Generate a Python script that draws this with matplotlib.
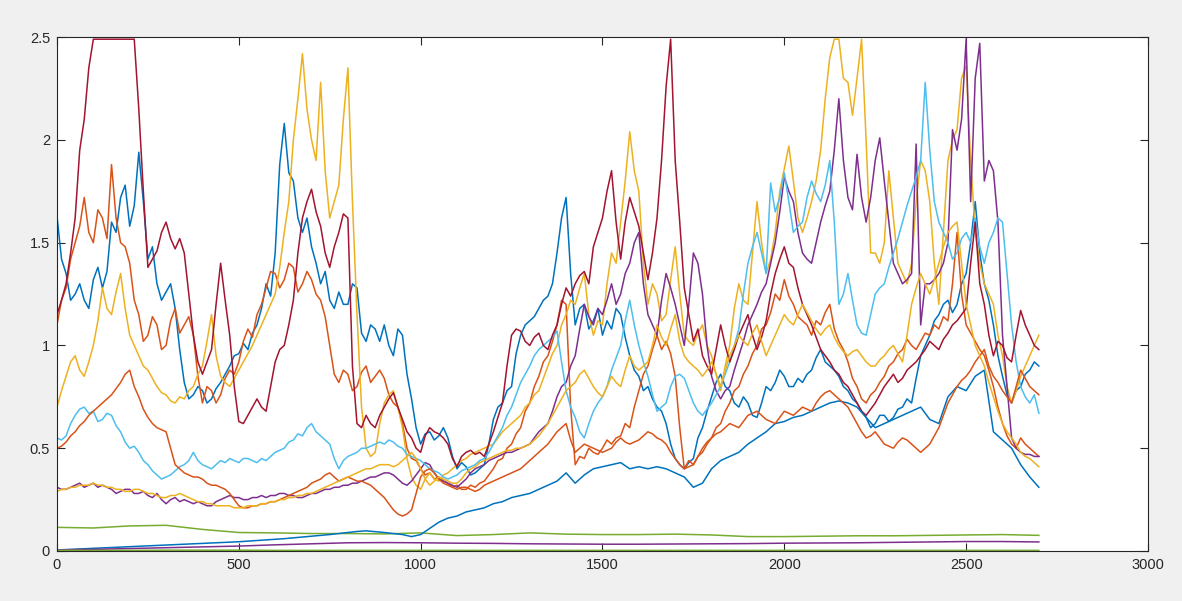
import matplotlib
matplotlib.use("Agg")
import matplotlib.pyplot as plt
from matplotlib.ticker import FuncFormatter

# sample positions: noisy series every 12.5 steps, blue_b every 25, flat series every 100
steps_fine = [i * 12.5 for i in range(217)]
steps = list(range(0, 2701, 25))
steps_coarse = list(range(0, 2701, 100))

blue_a = [
    1.63, 1.42, 1.35, 1.22, 1.25, 1.30, 1.22, 1.18, 1.32, 1.38, 1.28, 1.36, 1.60, 1.55, 1.72, 1.78, 1.58, 1.68, 1.94, 1.70, 1.42, 1.48, 1.30, 1.22,
    1.26, 1.30, 1.18, 0.98, 0.82, 0.74, 0.76, 0.80, 0.78, 0.72, 0.74, 0.79, 0.82, 0.86, 0.90, 0.95, 0.96, 1.01, 0.98, 1.06, 1.10, 1.18, 1.30, 1.24,
    1.45, 1.88, 2.08, 1.84, 1.80, 1.62, 1.55, 1.62, 1.48, 1.40, 1.30, 1.36, 1.22, 1.18, 1.26, 1.20, 1.20, 1.30, 1.28, 1.06, 1.02, 1.10, 1.08, 1.02,
    1.10, 1.00, 0.95, 1.08, 1.05, 0.86, 0.74, 0.60, 0.52, 0.57, 0.58, 0.54, 0.56, 0.60, 0.55, 0.46, 0.40, 0.43, 0.41, 0.37, 0.38, 0.40, 0.42, 0.52,
    0.64, 0.70, 0.72, 0.78, 0.80, 0.96, 1.05, 1.10, 1.12, 1.14, 1.18, 1.22, 1.24, 1.30, 1.45, 1.62, 1.72, 1.35, 1.10, 1.18, 1.20, 1.08, 1.12, 1.18,
    1.05, 1.12, 1.08, 1.18, 1.15, 1.04, 0.95, 0.88, 0.85, 0.78, 0.80, 0.74, 0.70, 0.68, 0.62, 0.52, 0.45, 0.42, 0.40, 0.43, 0.45, 0.55, 0.60, 0.68,
    0.75, 0.82, 0.86, 0.80, 0.78, 0.72, 0.70, 0.75, 0.72, 0.66, 0.65, 0.72, 0.80, 0.78, 0.82, 0.88, 0.85, 0.80, 0.80, 0.84, 0.82, 0.86, 0.88, 0.94,
    0.98, 0.92, 0.90, 0.88, 0.85, 0.80, 0.78, 0.74, 0.72, 0.68, 0.65, 0.60, 0.62, 0.66, 0.66, 0.63, 0.65, 0.69, 0.70, 0.74, 0.72, 0.84, 0.95, 1.00,
    1.05, 1.12, 1.15, 1.20, 1.22, 1.16, 1.20, 1.30, 1.35, 1.50, 1.70, 1.45, 1.30, 1.22, 1.10, 0.95, 0.85, 0.76, 0.72, 0.78, 0.80, 0.86, 0.88, 0.92,
    0.90,
]
orange_a = [
    1.10, 1.22, 1.28, 1.42, 1.50, 1.58, 1.72, 1.55, 1.50, 1.66, 1.62, 1.52, 1.88, 1.62, 1.50, 1.48, 1.40, 1.22, 1.15, 1.02, 1.05, 1.14, 1.10, 0.98,
    1.00, 1.12, 1.18, 1.06, 1.10, 1.14, 1.05, 0.85, 0.72, 0.80, 0.78, 0.72, 0.76, 0.84, 0.88, 0.86, 0.92, 1.02, 1.08, 1.04, 1.15, 1.20, 1.28, 1.36,
    1.35, 1.28, 1.32, 1.40, 1.38, 1.26, 1.30, 1.36, 1.32, 1.25, 1.22, 1.14, 1.00, 0.86, 0.82, 0.88, 0.86, 0.78, 0.80, 0.87, 0.90, 0.82, 0.85, 0.88,
    0.84, 0.76, 0.72, 0.70, 0.62, 0.50, 0.45, 0.44, 0.40, 0.37, 0.38, 0.35, 0.36, 0.34, 0.33, 0.31, 0.32, 0.30, 0.30, 0.32, 0.31, 0.33, 0.34, 0.37,
    0.40, 0.44, 0.45, 0.50, 0.52, 0.57, 0.60, 0.68, 0.72, 0.80, 0.85, 0.92, 0.95, 1.02, 1.10, 1.22, 1.20, 0.70, 0.42, 0.46, 0.45, 0.50, 0.48, 0.47,
    0.50, 0.54, 0.52, 0.55, 0.56, 0.62, 0.60, 0.70, 0.78, 0.86, 0.90, 0.98, 1.05, 0.98, 1.02, 0.96, 0.85, 0.60, 0.40, 0.44, 0.42, 0.46, 0.48, 0.52,
    0.55, 0.60, 0.62, 0.68, 0.72, 0.78, 0.80, 0.86, 0.90, 0.96, 1.00, 1.08, 1.10, 1.16, 1.25, 1.22, 1.32, 1.24, 1.20, 1.14, 1.12, 1.10, 1.05, 1.12,
    1.10, 1.16, 1.20, 1.08, 1.02, 0.98, 0.92, 0.84, 0.80, 0.74, 0.72, 0.76, 0.78, 0.82, 0.85, 0.90, 0.92, 0.96, 0.98, 1.03, 1.00, 0.98, 1.02, 1.06,
    1.05, 1.10, 1.08, 1.14, 1.12, 1.30, 1.55, 1.25, 1.10, 1.06, 1.02, 0.98, 0.95, 0.88, 0.80, 0.70, 0.62, 0.56, 0.52, 0.50, 0.55, 0.52, 0.50, 0.48,
    0.46,
]
yellow_a = [
    0.70, 0.78, 0.85, 0.92, 0.95, 0.88, 0.85, 0.92, 1.00, 1.12, 1.28, 1.18, 1.15, 1.26, 1.35, 1.18, 1.05, 1.00, 0.95, 0.90, 0.88, 0.84, 0.80, 0.77,
    0.76, 0.73, 0.72, 0.75, 0.74, 0.78, 0.80, 0.86, 0.90, 1.02, 1.15, 0.95, 0.85, 0.82, 0.80, 0.84, 0.88, 0.92, 0.96, 1.00, 1.05, 1.10, 1.15, 1.20,
    1.25, 1.38, 1.55, 1.70, 2.00, 2.20, 2.42, 2.15, 2.00, 1.90, 2.28, 1.85, 1.62, 1.70, 1.78, 2.10, 2.35, 1.70, 1.15, 0.70, 0.50, 0.46, 0.48, 0.62,
    0.72, 0.76, 0.78, 0.70, 0.60, 0.45, 0.36, 0.32, 0.30, 0.35, 0.38, 0.35, 0.34, 0.37, 0.38, 0.40, 0.42, 0.44, 0.45, 0.47, 0.48, 0.49, 0.50, 0.51,
    0.52, 0.55, 0.58, 0.60, 0.62, 0.64, 0.66, 0.70, 0.72, 0.76, 0.78, 0.84, 0.90, 0.96, 1.00, 1.10, 1.15, 1.22, 1.20, 1.28, 1.35, 1.15, 1.05, 1.12,
    1.10, 1.30, 1.45, 1.40, 1.60, 1.80, 2.04, 1.85, 1.75, 1.40, 1.20, 1.30, 1.25, 1.12, 1.15, 1.32, 1.48, 1.25, 1.05, 1.02, 1.00, 1.06, 1.10, 1.00,
    0.95, 0.86, 0.78, 0.90, 1.00, 1.18, 1.30, 1.22, 1.20, 1.45, 1.70, 1.50, 1.35, 1.42, 1.55, 1.75, 1.86, 1.97, 1.80, 1.62, 1.55, 1.62, 1.70, 1.80,
    1.95, 2.20, 2.40, 2.49, 2.49, 2.30, 2.28, 2.12, 2.30, 2.49, 2.00, 1.45, 1.45, 1.40, 1.50, 1.85, 1.62, 1.40, 1.35, 1.30, 1.40, 1.70, 1.90, 1.85,
    1.70, 1.40, 1.20, 1.55, 1.90, 2.00, 2.05, 2.30, 2.36, 1.90, 1.55, 1.40, 1.30, 1.25, 1.20, 1.05, 0.95, 0.80, 0.72, 0.78, 0.85, 0.90, 0.95, 1.00,
    1.05,
]
purple_a = [
    0.31, 0.30, 0.30, 0.31, 0.32, 0.33, 0.31, 0.32, 0.33, 0.31, 0.32, 0.31, 0.30, 0.28, 0.29, 0.30, 0.30, 0.28, 0.28, 0.29, 0.27, 0.26, 0.28, 0.25,
    0.23, 0.25, 0.26, 0.24, 0.25, 0.24, 0.23, 0.24, 0.23, 0.22, 0.22, 0.24, 0.25, 0.26, 0.27, 0.26, 0.26, 0.25, 0.25, 0.26, 0.26, 0.27, 0.26, 0.27,
    0.27, 0.28, 0.28, 0.27, 0.27, 0.26, 0.26, 0.27, 0.28, 0.28, 0.29, 0.30, 0.30, 0.31, 0.31, 0.32, 0.32, 0.33, 0.33, 0.34, 0.35, 0.36, 0.36, 0.37,
    0.38, 0.38, 0.37, 0.35, 0.33, 0.32, 0.34, 0.37, 0.40, 0.43, 0.42, 0.38, 0.35, 0.34, 0.33, 0.32, 0.31, 0.33, 0.35, 0.38, 0.40, 0.41, 0.42, 0.44,
    0.45, 0.46, 0.47, 0.48, 0.48, 0.49, 0.50, 0.51, 0.52, 0.55, 0.58, 0.60, 0.62, 0.68, 0.75, 0.80, 0.82, 0.90, 0.95, 1.08, 1.20, 1.14, 1.10, 1.18,
    1.15, 1.22, 1.30, 1.20, 1.25, 1.35, 1.40, 1.50, 1.55, 1.30, 1.15, 1.10, 1.05, 1.22, 1.35, 1.28, 1.20, 1.10, 1.00, 1.20, 1.45, 1.40, 1.25, 1.00,
    0.85, 0.78, 0.74, 0.78, 0.80, 0.88, 0.95, 1.02, 1.10, 1.15, 1.20, 1.26, 1.30, 1.40, 1.50, 1.65, 1.82, 1.75, 1.70, 1.55, 1.45, 1.42, 1.40, 1.50,
    1.60, 1.68, 1.75, 1.95, 2.20, 1.90, 1.72, 1.66, 1.93, 1.72, 1.60, 1.72, 1.90, 2.01, 1.80, 1.60, 1.40, 1.35, 1.30, 1.32, 1.35, 1.98, 1.10, 1.30,
    1.30, 1.32, 1.35, 1.40, 1.50, 2.05, 1.95, 2.10, 2.49, 1.70, 2.30, 2.47, 1.80, 1.90, 1.85, 1.60, 1.05, 0.80, 0.55, 0.50, 0.48, 0.47, 0.47, 0.46,
    0.46,
]
green_a = [
    0.115, 0.112, 0.122, 0.125, 0.105, 0.090, 0.088, 0.085, 0.085, 0.083,
    0.088, 0.075, 0.080, 0.088, 0.082, 0.080, 0.080, 0.082, 0.078, 0.070,
    0.070, 0.072, 0.074, 0.074, 0.076, 0.078, 0.080, 0.076,
]
light_blue = [
    0.55, 0.54, 0.56, 0.62, 0.66, 0.69, 0.70, 0.67, 0.68, 0.63, 0.64, 0.67, 0.66, 0.61, 0.58, 0.53, 0.50, 0.51, 0.48, 0.44, 0.42, 0.39, 0.37, 0.35,
    0.36, 0.37, 0.39, 0.41, 0.42, 0.44, 0.48, 0.44, 0.42, 0.41, 0.40, 0.42, 0.44, 0.43, 0.45, 0.44, 0.43, 0.45, 0.45, 0.44, 0.43, 0.45, 0.44, 0.46,
    0.48, 0.49, 0.50, 0.53, 0.54, 0.57, 0.56, 0.60, 0.62, 0.58, 0.56, 0.54, 0.52, 0.45, 0.40, 0.44, 0.46, 0.47, 0.48, 0.50, 0.50, 0.51, 0.52, 0.53,
    0.52, 0.54, 0.53, 0.51, 0.50, 0.47, 0.46, 0.45, 0.44, 0.42, 0.40, 0.39, 0.38, 0.36, 0.35, 0.36, 0.37, 0.39, 0.40, 0.41, 0.42, 0.44, 0.45, 0.48,
    0.52, 0.56, 0.60, 0.66, 0.70, 0.76, 0.82, 0.86, 0.90, 0.95, 0.98, 1.00, 1.02, 1.04, 1.07, 0.92, 0.78, 0.70, 0.65, 0.58, 0.55, 0.62, 0.68, 0.72,
    0.75, 0.80, 0.88, 0.94, 1.00, 1.12, 1.22, 1.10, 1.00, 0.92, 0.85, 0.76, 0.68, 0.70, 0.72, 0.80, 0.85, 0.86, 0.84, 0.78, 0.72, 0.68, 0.66, 0.69,
    0.72, 0.76, 0.80, 0.86, 0.92, 1.00, 1.08, 1.25, 1.40, 1.48, 1.55, 1.45, 1.35, 1.79, 1.65, 1.72, 1.84, 1.70, 1.55, 1.58, 1.60, 1.72, 1.80, 1.74,
    1.70, 1.78, 1.90, 1.60, 1.20, 1.25, 1.35, 1.22, 1.10, 1.06, 1.05, 1.15, 1.25, 1.28, 1.30, 1.38, 1.45, 1.52, 1.60, 1.68, 1.75, 1.82, 1.90, 2.28,
    1.95, 1.70, 1.60, 1.55, 1.50, 1.42, 1.45, 1.52, 1.55, 1.50, 1.62, 1.48, 1.40, 1.50, 1.55, 1.62, 1.60, 1.35, 1.10, 0.92, 0.80, 0.75, 0.72, 0.76,
    0.67,
]
dark_red = [
    1.15, 1.22, 1.30, 1.45, 1.62, 1.95, 2.10, 2.35, 2.49, 2.49, 2.49, 2.49, 2.49, 2.49, 2.49, 2.49, 2.49, 2.49, 2.15, 1.75, 1.38, 1.42, 1.46, 1.55,
    1.60, 1.52, 1.47, 1.52, 1.45, 1.25, 1.05, 0.92, 0.86, 0.92, 0.98, 1.20, 1.40, 1.22, 1.05, 0.80, 0.63, 0.62, 0.66, 0.70, 0.74, 0.70, 0.68, 0.80,
    0.92, 0.98, 1.00, 1.10, 1.22, 1.45, 1.62, 1.70, 1.76, 1.65, 1.58, 1.45, 1.38, 1.48, 1.55, 1.64, 1.62, 0.90, 0.62, 0.60, 0.66, 0.62, 0.60, 0.66,
    0.70, 0.74, 0.77, 0.70, 0.64, 0.58, 0.55, 0.50, 0.48, 0.56, 0.60, 0.58, 0.57, 0.55, 0.52, 0.45, 0.41, 0.46, 0.48, 0.49, 0.47, 0.48, 0.46, 0.52,
    0.58, 0.65, 0.72, 0.90, 1.05, 1.08, 1.07, 1.02, 1.00, 1.04, 1.06, 1.00, 0.98, 1.05, 1.10, 1.20, 1.28, 1.24, 1.30, 1.34, 1.36, 1.30, 1.48, 1.55,
    1.62, 1.75, 1.85, 1.60, 1.42, 1.60, 1.72, 1.65, 1.58, 1.45, 1.32, 1.45, 1.62, 1.90, 2.26, 2.49, 1.90, 1.60, 1.28, 1.15, 1.02, 1.08, 0.95, 0.90,
    0.86, 0.98, 1.10, 1.00, 0.92, 0.98, 1.05, 1.10, 1.15, 1.05, 0.98, 1.04, 1.12, 1.25, 1.35, 1.42, 1.48, 1.40, 1.38, 1.28, 1.20, 1.15, 1.10, 1.04,
    0.98, 0.95, 0.92, 0.88, 0.86, 0.82, 0.80, 0.76, 0.72, 0.68, 0.66, 0.69, 0.72, 0.76, 0.80, 0.83, 0.86, 0.82, 0.84, 0.88, 0.90, 0.92, 0.95, 0.98,
    1.02, 1.00, 0.98, 1.03, 1.06, 1.10, 1.12, 1.15, 1.18, 1.40, 1.60, 1.30, 1.20, 1.05, 0.95, 1.02, 1.00, 0.94, 0.92, 1.05, 1.17, 1.10, 1.05, 1.00,
    0.98,
]
blue_b = [
    0.005, 0.007, 0.009, 0.011, 0.013, 0.015, 0.017, 0.019, 0.021, 0.023, 0.025, 0.027,
    0.029, 0.031, 0.033, 0.035, 0.037, 0.039, 0.041, 0.043, 0.045, 0.048, 0.051, 0.054,
    0.057, 0.060, 0.064, 0.068, 0.072, 0.076, 0.080, 0.085, 0.090, 0.095, 0.098, 0.094,
    0.090, 0.085, 0.080, 0.070, 0.080, 0.11, 0.14, 0.16, 0.17, 0.19, 0.20, 0.21,
    0.23, 0.24, 0.26, 0.27, 0.28, 0.30, 0.32, 0.34, 0.38, 0.33, 0.37, 0.40,
    0.41, 0.42, 0.43, 0.40, 0.41, 0.40, 0.41, 0.40, 0.38, 0.36, 0.31, 0.33,
    0.40, 0.44, 0.46, 0.48, 0.52, 0.55, 0.58, 0.62, 0.63, 0.65, 0.66, 0.68,
    0.70, 0.72, 0.73, 0.72, 0.70, 0.65, 0.60, 0.62, 0.64, 0.66, 0.68, 0.70,
    0.64, 0.62, 0.75, 0.80, 0.78, 0.85, 0.88, 0.58, 0.54, 0.50, 0.42, 0.36,
    0.31,
]
orange_b = [
    0.50, 0.51, 0.53, 0.56, 0.58, 0.61, 0.63, 0.66, 0.68, 0.70, 0.72, 0.74, 0.76, 0.79, 0.82, 0.86, 0.88, 0.80, 0.75, 0.69, 0.65, 0.62, 0.60, 0.59,
    0.58, 0.50, 0.42, 0.40, 0.38, 0.37, 0.36, 0.36, 0.35, 0.33, 0.32, 0.32, 0.31, 0.30, 0.28, 0.25, 0.22, 0.21, 0.21, 0.22, 0.22, 0.23, 0.23, 0.24,
    0.24, 0.25, 0.26, 0.27, 0.28, 0.29, 0.30, 0.31, 0.33, 0.34, 0.35, 0.37, 0.38, 0.36, 0.34, 0.35, 0.36, 0.35, 0.34, 0.34, 0.33, 0.32, 0.30, 0.28,
    0.26, 0.23, 0.20, 0.18, 0.17, 0.18, 0.20, 0.28, 0.36, 0.39, 0.40, 0.38, 0.35, 0.33, 0.32, 0.31, 0.30, 0.31, 0.31, 0.30, 0.29, 0.30, 0.32, 0.33,
    0.34, 0.35, 0.36, 0.37, 0.38, 0.39, 0.40, 0.42, 0.44, 0.46, 0.48, 0.50, 0.52, 0.55, 0.58, 0.60, 0.62, 0.54, 0.48, 0.50, 0.52, 0.51, 0.50, 0.49,
    0.48, 0.49, 0.50, 0.53, 0.55, 0.53, 0.52, 0.53, 0.54, 0.56, 0.58, 0.57, 0.55, 0.54, 0.52, 0.48, 0.45, 0.42, 0.40, 0.41, 0.42, 0.46, 0.50, 0.53,
    0.55, 0.57, 0.58, 0.60, 0.62, 0.61, 0.60, 0.63, 0.66, 0.67, 0.68, 0.66, 0.64, 0.63, 0.62, 0.65, 0.68, 0.67, 0.66, 0.68, 0.70, 0.69, 0.68, 0.72,
    0.75, 0.77, 0.78, 0.76, 0.74, 0.72, 0.70, 0.66, 0.62, 0.58, 0.55, 0.56, 0.58, 0.55, 0.52, 0.51, 0.50, 0.53, 0.55, 0.54, 0.52, 0.50, 0.48, 0.50,
    0.52, 0.56, 0.60, 0.66, 0.72, 0.76, 0.80, 0.83, 0.85, 0.88, 0.92, 0.95, 0.98, 0.90, 0.85, 0.82, 0.78, 0.75, 0.72, 0.80, 0.88, 0.84, 0.80, 0.78,
    0.76,
]
yellow_b = [
    0.29, 0.30, 0.30, 0.31, 0.31, 0.32, 0.32, 0.32, 0.33, 0.32, 0.32, 0.31, 0.31, 0.30, 0.30, 0.29, 0.29, 0.30, 0.30, 0.29, 0.28, 0.28, 0.27, 0.26,
    0.26, 0.27, 0.27, 0.28, 0.27, 0.26, 0.25, 0.24, 0.24, 0.23, 0.23, 0.22, 0.22, 0.22, 0.22, 0.21, 0.21, 0.21, 0.22, 0.22, 0.22, 0.23, 0.23, 0.24,
    0.24, 0.25, 0.25, 0.26, 0.26, 0.27, 0.27, 0.28, 0.28, 0.29, 0.30, 0.31, 0.32, 0.33, 0.34, 0.35, 0.36, 0.37, 0.38, 0.39, 0.40, 0.40, 0.41, 0.42,
    0.42, 0.42, 0.41, 0.42, 0.44, 0.46, 0.48, 0.45, 0.40, 0.35, 0.32, 0.34, 0.36, 0.35, 0.34, 0.33, 0.33, 0.35, 0.38, 0.40, 0.41, 0.43, 0.44, 0.45,
    0.46, 0.47, 0.48, 0.49, 0.49, 0.50, 0.50, 0.51, 0.52, 0.54, 0.56, 0.59, 0.62, 0.66, 0.70, 0.74, 0.78, 0.80, 0.82, 0.86, 0.88, 0.84, 0.80, 0.77,
    0.75, 0.80, 0.85, 0.82, 0.80, 0.88, 0.95, 0.90, 0.88, 0.90, 0.92, 1.00, 1.10, 1.04, 1.00, 1.08, 1.15, 1.02, 0.95, 0.92, 0.90, 0.88, 0.85, 0.88,
    0.92, 0.86, 0.80, 0.88, 0.95, 1.00, 1.05, 1.02, 1.00, 1.06, 1.10, 1.02, 0.95, 1.00, 1.05, 1.10, 1.15, 1.12, 1.10, 1.15, 1.20, 1.16, 1.12, 1.08,
    1.05, 1.08, 1.10, 1.04, 1.00, 0.97, 0.95, 0.97, 0.98, 0.95, 0.92, 0.90, 0.90, 0.93, 0.95, 0.98, 1.00, 0.96, 0.92, 1.05, 1.20, 1.28, 1.35, 1.30,
    1.25, 1.32, 1.40, 1.48, 1.55, 1.58, 1.60, 1.40, 1.20, 1.10, 1.00, 0.95, 0.90, 0.82, 0.75, 0.68, 0.62, 0.58, 0.55, 0.52, 0.48, 0.46, 0.45, 0.43,
    0.41,
]
purple_b = [
    0.005, 0.008, 0.012, 0.016, 0.020, 0.024, 0.030, 0.035, 0.040, 0.041,
    0.040, 0.038, 0.037, 0.035, 0.034, 0.033, 0.033, 0.034, 0.035, 0.036,
    0.038, 0.039, 0.040, 0.042, 0.044, 0.046, 0.046, 0.044,
]
green_b = [
    0.003, 0.003, 0.003, 0.004, 0.004, 0.004, 0.003, 0.003, 0.003, 0.003,
    0.003, 0.003, 0.003, 0.003, 0.003, 0.003, 0.003, 0.003, 0.003, 0.003,
    0.003, 0.003, 0.003, 0.003, 0.003, 0.003, 0.003, 0.003,
]

# MATLAB default color order
C_BLUE = "#0072BD"
C_ORANGE = "#D95319"
C_YELLOW = "#EDB120"
C_PURPLE = "#7E2F8E"
C_GREEN = "#77AC30"
C_LBLUE = "#4DBEEE"
C_RED = "#A2142F"

series = [
    (steps_fine, blue_a, C_BLUE),
    (steps_fine, orange_a, C_ORANGE),
    (steps_fine, yellow_a, C_YELLOW),
    (steps_fine, purple_a, C_PURPLE),
    (steps_coarse, green_a, C_GREEN),
    (steps_fine, light_blue, C_LBLUE),
    (steps_fine, dark_red, C_RED),
    (steps, blue_b, C_BLUE),
    (steps_fine, orange_b, C_ORANGE),
    (steps_fine, yellow_b, C_YELLOW),
    (steps_coarse, purple_b, C_PURPLE),
    (steps_coarse, green_b, C_GREEN),
]

plt.rcParams["font.family"] = ["Liberation Sans", "DejaVu Sans"]

fig = plt.figure(figsize=(11.82, 6.01), dpi=100, facecolor="#F0F0F0")
ax = fig.add_axes([0.0482, 0.0832, 0.923, 0.855])
ax.set_facecolor("white")

for xs, ys, col in series:
    ax.plot(xs, ys, color=col, linewidth=1.1)

ax.set_xlim(0, 3000)
ax.set_ylim(0, 2.5)
ax.set_xticks(range(0, 3001, 500))
ax.set_yticks([0, 0.5, 1, 1.5, 2, 2.5])
ax.yaxis.set_major_formatter(FuncFormatter(lambda v, p: "%g" % v))

ax.tick_params(direction="in", top=True, right=True, length=6, width=0.8,
               colors="#262626", labelsize=10.5, pad=5)
for s in ax.spines.values():
    s.set_color("#262626")
    s.set_linewidth(0.8)

fig.savefig("out.png", dpi=100, facecolor=fig.get_facecolor())
